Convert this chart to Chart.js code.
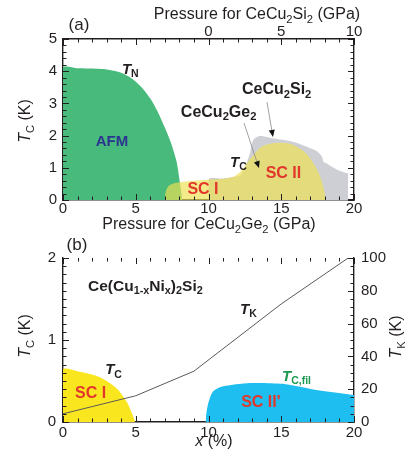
<!DOCTYPE html>
<html>
<head>
<meta charset="utf-8">
<script src="https://cdn.jsdelivr.net/npm/chart.js@4.4.1/dist/chart.umd.min.js"></script>
<style>
  html, body { margin: 0; padding: 0; background: #fff; }
  #wrap { position: relative; width: 406px; height: 458px; }
  canvas { position: absolute; left: 0; }
  #ca { top: 0; }
  #cb { top: 236px; }
</style>
</head>
<body>
<div id="wrap">
  <canvas id="ca" width="406" height="236"></canvas>
  <canvas id="cb" width="406" height="222"></canvas>
</div>
<script>
/* ---------- panel (a): pressure phase diagram (x = GPa for CeCu2Ge2) ---------- */
const afmX = [0, 0, 1, 2, 3, 4, 4.8, 5.5, 6, 6.5, 7, 7.4, 7.8, 8.05, 8.2];
const afmY = [0, 4.1, 4.09, 4.08, 4.05, 3.95, 3.75, 3.45, 3.15, 2.75, 2.25, 1.8, 1.2, 0.5, 0];

const scX = [7.0, 7.02, 7.1, 7.3, 7.7, 8.3, 9, 10, 11, 11.7, 12.2, 12.6, 13, 13.5, 14, 14.5, 15.1, 15.7, 16.2, 16.7, 17.1, 17.4, 17.7, 17.9, 18.0, 18.05];
const scY = [0, 0.15, 0.32, 0.45, 0.53, 0.57, 0.6, 0.63, 0.66, 0.72, 0.88, 1.12, 1.35, 1.6, 1.72, 1.77, 1.78, 1.73, 1.62, 1.45, 1.22, 1.0, 0.7, 0.4, 0.15, 0];

const siX = [10, 10, 11, 11.8, 12.2, 12.5, 12.85, 13.07, 13.5, 14.4, 15.8, 17.0, 17.5, 17.8, 17.9, 18.1, 18.8, 19.5, 19.6, 19.6];
const siY = [0, 0.65, 0.67, 0.72, 0.78, 1.0, 1.45, 1.86, 1.99, 1.92, 1.81, 1.61, 1.5, 1.35, 1.19, 1.14, 0.95, 0.83, 0.82, 0];

const aTicksGe = [0, 5, 10, 15, 20];
const aTicksSi = [0, 5, 10];
const aTicksT = [0, 1, 2, 3, 4, 5];

/* ---------- panel (b): Ce(Cu1-xNix)2Si2 ---------- */
const sc1X = [0, 0, 1, 2.5, 3.7, 4.4, 4.8, 4.95];
const sc1Y = [0, 0.64, 0.62, 0.55, 0.41, 0.24, 0.08, 0];

const sc2X = [9.8, 9.85, 10, 10.3, 10.9, 12.85, 15.1, 17.1, 20];
const sc2Y = [0, 0.1, 0.24, 0.37, 0.43, 0.475, 0.465, 0.40, 0.33];

const tkX = [0, 5, 9, 15, 19.6];
const tkY = [5, 16, 31, 72, 100];

const bTicksX = [0, 5, 10, 15, 20];
const bTicksTc = [0, 1, 2];
const bTicksTk = [0, 20, 40, 60, 80, 100];

/* ---------- helpers ---------- */
const FF = '"Liberation Sans", Arial, Helvetica, sans-serif';
const INK = '#231f20';
const pts = (xs, ys) => xs.map((x, i) => ({x, y: ys[i]}));

// rich text: parts = [[text, flags]], flags: i = italic, s = subscript
function rich(ctx, x, y, parts, size, color, align, bold){
  const segs = parts.map(([t, f = '']) => {
    const sub = f.includes('s');
    const sz = sub ? size * 0.7 : size;
    const font = (f.includes('i') ? 'italic ' : '') + (bold ? 'bold ' : '') + sz + 'px ' + FF;
    ctx.font = font;
    return {t, font, w: ctx.measureText(t).width, dy: sub ? size * 0.3 : 0};
  });
  const total = segs.reduce((a, s) => a + s.w, 0);
  let cx = align === 'center' ? x - total / 2 : align === 'right' ? x - total : x;
  ctx.fillStyle = color; ctx.textBaseline = 'middle'; ctx.textAlign = 'left';
  segs.forEach(s => { ctx.font = s.font; ctx.fillText(s.t, cx, y + s.dy); cx += s.w; });
}

// inward tick marks, labels, arrows and titles
const deco = {
  id: 'deco',
  afterDatasetsDraw(chart, args, o){
    const ctx = chart.ctx, ca = chart.chartArea;
    ctx.save();
    ctx.strokeStyle = INK; ctx.lineWidth = 1;
    (o.ticks || []).forEach(t => {
      const s = chart.scales[t.id];
      for (let v = s.min; v <= s.max + 1e-9; v += t.minor) {
        const major = Math.abs(v / t.major - Math.round(v / t.major)) < 1e-6;
        const len = major ? 6 : 3.5;
        const p = Math.round(s.getPixelForValue(v)) + 0.5;
        ctx.beginPath();
        if (t.side === 'bottom') { ctx.moveTo(p, ca.bottom); ctx.lineTo(p, ca.bottom - len); }
        if (t.side === 'top')    { ctx.moveTo(p, ca.top); ctx.lineTo(p, ca.top + len); }
        if (t.side === 'left')   { ctx.moveTo(ca.left, p); ctx.lineTo(ca.left + len, p); }
        if (t.side === 'right')  { ctx.moveTo(ca.right, p); ctx.lineTo(ca.right - len, p); }
        ctx.stroke();
      }
    });
    const xs = chart.scales.x, ys = chart.scales.y;
    (o.arrows || []).forEach(a => {
      const x0 = xs.getPixelForValue(a.from[0]), y0 = ys.getPixelForValue(a.from[1]);
      const x1 = xs.getPixelForValue(a.to[0]), y1 = ys.getPixelForValue(a.to[1]);
      const ang = Math.atan2(y1 - y0, x1 - x0);
      ctx.strokeStyle = '#8a8a8a'; ctx.lineWidth = 0.8;
      ctx.beginPath(); ctx.moveTo(x0, y0); ctx.lineTo(x1 - 4 * Math.cos(ang), y1 - 4 * Math.sin(ang)); ctx.stroke();
      ctx.fillStyle = '#111';
      ctx.beginPath();
      ctx.moveTo(x1, y1);
      ctx.lineTo(x1 - 7 * Math.cos(ang) + 3 * Math.sin(ang), y1 - 7 * Math.sin(ang) - 3 * Math.cos(ang));
      ctx.lineTo(x1 - 7 * Math.cos(ang) - 3 * Math.sin(ang), y1 - 7 * Math.sin(ang) + 3 * Math.cos(ang));
      ctx.closePath(); ctx.fill();
    });
    (o.labels || []).forEach(l => {
      rich(ctx, xs.getPixelForValue(l.x), ys.getPixelForValue(l.y), l.parts, l.size || 15,
           l.color || INK, l.align || 'left', l.bold !== false);
    });
    (o.titles || []).forEach(t => {
      ctx.save();
      ctx.translate(t.px, t.py);
      if (t.rot) ctx.rotate(-Math.PI / 2);
      rich(ctx, 0, 0, t.parts, t.size || 16, INK, 'center', false);
      ctx.restore();
    });
    ctx.restore();
  }
};

const tickFont = {family: FF, size: 15};
function axis(pos, min, max, step, fit, extra){
  return Object.assign({
    type: 'linear', position: pos, min, max,
    grid: {display: false, drawTicks: false},
    border: {display: true, color: INK, width: 1.4},
    ticks: {stepSize: step, font: tickFont, color: INK, padding: 1},
    afterFit: fit
  }, extra || {});
}
function area(xs, ys, color, axisId){
  return {type: 'line', data: pts(xs, ys), backgroundColor: color, borderWidth: 0,
          pointRadius: 0, fill: 'origin', tension: 0.25, yAxisID: axisId || 'y'};
}

/* ---------- chart (a) ---------- */
new Chart(document.getElementById('ca'), {
  type: 'line',
  data: {datasets: [
    area(scX, scY, 'rgba(237,224,83,0.68)'),
    area(afmX, afmY, 'rgb(72,186,124)'),
    area(siX, siY, 'rgb(206,207,212)')
  ]},
  options: {
    responsive: false, animation: false, events: [],
    layout: {padding: 0},
    plugins: {
      legend: {display: false}, tooltip: {enabled: false},
      deco: {
        ticks: [
          {id: 'x', side: 'bottom', minor: 1, major: 5},
          {id: 'x2', side: 'top', minor: 1, major: 5},
          {id: 'y', side: 'left', minor: 0.2, major: 1},
          {id: 'y', side: 'right', minor: 0.2, major: 1}
        ],
        arrows: [
          {from: [12.44, 2.39], to: [13.47, 0.99]},
          {from: [14.02, 3.04], to: [14.43, 1.96]}
        ],
        labels: [
          {x: 4.05, y: 4.04, parts: [['T', 'i'], ['N', 's']]},
          {x: 3.37, y: 1.8, parts: [['AFM']], color: '#2b3590', align: 'center'},
          {x: 9.62, y: 0.31, parts: [['SC I']], color: '#e2372b', align: 'center', size: 16},
          {x: 15.15, y: 0.81, parts: [['SC II']], color: '#e2372b', align: 'center', size: 16},
          {x: 11.48, y: 1.15, parts: [['T', 'i'], ['C', 's']]},
          {x: 8.1, y: 2.73, parts: [['CeCu'], ['2', 's'], ['Ge'], ['2', 's']], size: 16},
          {x: 12.3, y: 3.42, parts: [['CeCu'], ['2', 's'], ['Si'], ['2', 's']], size: 16}
        ],
        titles: [
          {px: 79, py: 25, parts: [['(a)']], size: 17},
          {px: 257, py: 15, parts: [['Pressure for CeCu'], ['2', 's'], ['Si'], ['2', 's'], [' (GPa)']]},
          {px: 209, py: 225, parts: [['Pressure for CeCu'], ['2', 's'], ['Ge'], ['2', 's'], [' (GPa)']]},
          {px: 26, py: 121, rot: true, parts: [['T', 'i'], ['C', 's'], [' (K)']]}
        ]
      }
    },
    scales: {
      x: axis('bottom', 0, 20, 5, s => { s.height = 36; },
        {ticks: {stepSize: 5, font: tickFont, color: INK, padding: 0,
                 callback: v => aTicksGe.includes(v) ? String(v) : ''}}),
      x2: axis('top', -10, 10, 5, s => { s.height = 39; },
        {ticks: {stepSize: 5, font: tickFont, color: INK, padding: -2,
                 callback: v => aTicksSi.includes(v) ? String(v) : ''}}),
      y: axis('left', 0, 5, 1, s => { s.width = 63; },
        {ticks: {stepSize: 1, font: tickFont, color: INK, padding: 6,
                 callback: v => aTicksT.includes(v) ? String(v) : ''}}),
      y2: axis('right', 0, 5, 1, s => { s.width = 52; }, {ticks: {display: false}})
    }
  },
  plugins: [deco]
});

/* ---------- chart (b) ---------- */
new Chart(document.getElementById('cb'), {
  type: 'line',
  data: {datasets: [
    {type: 'line', data: pts(tkX, tkY), borderColor: '#5a5a5a', borderWidth: 1, pointRadius: 0,
     fill: false, tension: 0, yAxisID: 'y2'},
    area(sc1X, sc1Y, 'rgb(250,230,30)'),
    area(sc2X, sc2Y, 'rgb(30,190,240)')
  ]},
  options: {
    responsive: false, animation: false, events: [],
    layout: {padding: {top: 22}},
    plugins: {
      legend: {display: false}, tooltip: {enabled: false},
      deco: {
        ticks: [
          {id: 'x', side: 'bottom', minor: 1, major: 5},
          {id: 'x', side: 'top', minor: 1, major: 5},
          {id: 'y', side: 'left', minor: 0.1, major: 1},
          {id: 'y2', side: 'right', minor: 5, major: 20}
        ],
        labels: [
          {x: 1.72, y: 1.65, parts: [['Ce(Cu'], ['1-x', 's'], ['Ni'], ['x', 's'], [')'], ['2', 's'], ['Si'], ['2', 's']], size: 15.5},
          {x: 12.17, y: 1.37, parts: [['T', 'i'], ['K', 's']]},
          {x: 2.9, y: 0.63, parts: [['T', 'i'], ['C', 's']]},
          {x: 1.9, y: 0.35, parts: [['SC I']], color: '#e2372b', align: 'center', size: 16},
          {x: 13.6, y: 0.24, parts: [['SC II\'']], color: '#e2372b', align: 'center', size: 16},
          {x: 15.05, y: 0.55, parts: [['T', 'i'], ['C,fil', 's']], color: '#1a9850'}
        ],
        titles: [
          {px: 77, py: 9, parts: [['(b)']], size: 17},
          {px: 214, py: 206, parts: [['x', 'i'], [' (%)']]},
          {px: 26, py: 100, rot: true, parts: [['T', 'i'], ['C', 's'], [' (K)']]},
          {px: 397, py: 101, rot: true, parts: [['T', 'i'], ['K', 's'], [' (K)']]}
        ]
      }
    },
    scales: {
      x: axis('bottom', 0, 20, 5, s => { s.height = 36; },
        {ticks: {stepSize: 5, font: tickFont, color: INK, padding: 2,
                 callback: v => bTicksX.includes(v) ? String(v) : ''}}),
      y: axis('left', 0, 2, 1, s => { s.width = 63; },
        {ticks: {stepSize: 1, font: tickFont, color: INK, padding: 7,
                 callback: v => bTicksTc.includes(v) ? String(v) : ''}}),
      y2: axis('right', 0, 100, 20, s => { s.width = 52; },
        {ticks: {stepSize: 20, font: tickFont, color: INK, padding: 7,
                 callback: v => bTicksTk.includes(v) ? String(v) : ''}})
    }
  },
  plugins: [deco]
});
</script>
</body>
</html>
